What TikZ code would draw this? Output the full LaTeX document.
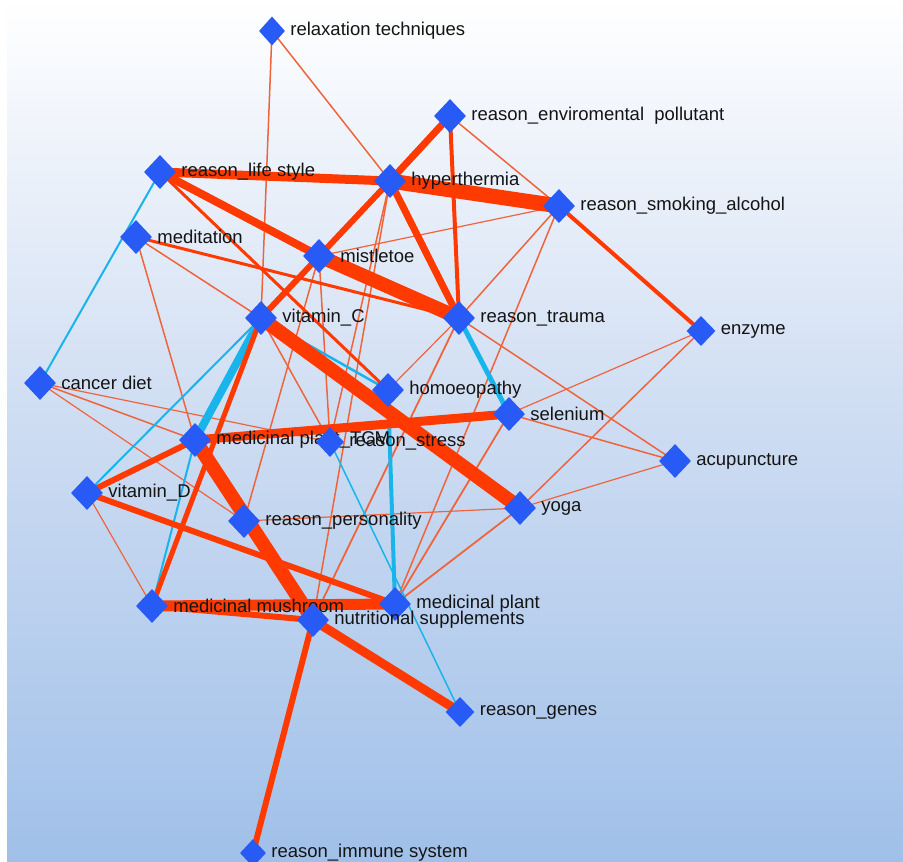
\documentclass[tikz,border=0pt]{standalone}
\usepackage{fontspec}
\setmainfont{Liberation Sans}
\usetikzlibrary{shapes.geometric}
\pgfdeclarelayer{bg}
\pgfdeclarelayer{edges}
\pgfsetlayers{bg,edges,main}
\definecolor{nodeblue}{RGB}{40,90,245}
\definecolor{ered}{RGB}{255,58,0}
\definecolor{elight}{RGB}{240,100,60}
\definecolor{ecyan}{RGB}{25,180,235}
\definecolor{bgbot}{RGB}{160,192,233}
\definecolor{bgmid}{RGB}{205,220,242}
\tikzset{
  nd/.style={diamond, fill=nodeblue, inner sep=0pt, minimum width=32pt, minimum height=34pt},
  lbl/.style={font=\fontsize{18.5}{20}\selectfont, text=black!92, inner sep=0pt},
  er/.style={draw=ered, line width=#1},
  el/.style={draw=elight, line width=#1},
  ec/.style={draw=ecyan, line width=#1},
}
\begin{document}
\begin{tikzpicture}[x=1pt,y=-1pt, label distance=5pt]
\useasboundingbox (0,0) rectangle (903,862);
\begin{pgfonlayer}{bg}
\fill[white] (0,0) rectangle (903,862);
\shade[top color=white, bottom color=bgbot, middle color=bgmid] (7,0) rectangle (903,862);
\end{pgfonlayer}

\node[nd, minimum width=26pt, minimum height=29pt, label={[lbl]right:relaxation techniques}] (relax) at (272,31) {};
\node[nd, label={[lbl]right:reason\_enviromental\ \ pollutant}] (env) at (450,116) {};
\node[nd, label={[lbl]right:reason\_life style}] (life) at (160,172) {};
\node[nd, label={[lbl]right:hyperthermia}] (hyper) at (390,181) {};
\node[nd, label={[lbl]right:reason\_smoking\_alcohol}] (smoke) at (559,206) {};
\node[nd, label={[lbl]right:meditation}] (medit) at (136,237) {};
\node[nd, label={[lbl]right:mistletoe}] (mist) at (319,256) {};
\node[nd, label={[lbl]right:vitamin\_C}] (vitC) at (261,318) {};
\node[nd, label={[lbl]right:reason\_trauma}] (trauma) at (459,318) {};
\node[nd, minimum width=29pt, minimum height=30pt, label={[lbl]right:enzyme}] (enzyme) at (701,331) {};
\node[nd, label={[lbl]right:cancer diet}] (cancer) at (40,383) {};
\node[nd, label={[lbl]right:homoeopathy}] (homoeo) at (388,390) {};
\node[nd, label={[lbl]right:selenium}] (selen) at (509,414) {};
\node[nd, label={[lbl]right:medicinal plant\_TCM}] (tcm) at (195,440) {};
\node[nd, minimum width=28pt, minimum height=30pt, label={[lbl]right:reason\_stress}] (stress) at (330,442) {};
\node[nd, label={[lbl]right:acupuncture}] (acup) at (675,461) {};
\node[nd, label={[lbl]right:vitamin\_D}] (vitD) at (87,493) {};
\node[nd, label={[lbl]right:yoga}] (yoga) at (520,508) {};
\node[nd, label={[lbl]right:reason\_personality}] (person) at (244,521) {};
\node[nd, label={[lbl]right:medicinal mushroom}] (mush) at (152,606) {};
\node[nd, label={[lbl]right:medicinal plant}] (mplant) at (395,604) {};
\node[nd, label={[lbl]right:nutritional supplements}] (nutr) at (313,620) {};
\node[nd, minimum width=29pt, minimum height=30pt, label={[lbl]right:reason\_genes}] (genes) at (460,712) {};
\node[nd, minimum width=26pt, minimum height=28pt, label={[lbl]right:reason\_immune system}] (immune) at (253,853) {};

\begin{pgfonlayer}{edges}
% thin light edges
\draw[el=1.5] (relax.center) -- (vitC.center);
\draw[el=1.5] (relax.center) -- (hyper.center);
\draw[el=1.5] (env.center) -- (smoke.center);
\draw[el=1.5] (medit.center) -- (vitC.center);
\draw[el=1.5] (medit.center) -- (tcm.center);
\draw[el=1.5] (hyper.center) -- (stress.center);
\draw[el=1.2] (mist.center) -- (smoke.center);
\draw[el=1.5] (mist.center) -- (stress.center);
\draw[el=1.5] (vitC.center) -- (stress.center);
\draw[el=1.5] (trauma.center) -- (acup.center);
\draw[el=1.2] (trauma.center) -- (homoeo.center);
\draw[el=1.8] (trauma.center) -- (nutr.center);
\draw[el=1.5] (smoke.center) -- (trauma.center);
\draw[el=1.2] (enzyme.center) -- (selen.center);
\draw[el=1.5] (enzyme.center) -- (yoga.center);
\draw[el=1.5] (selen.center) -- (acup.center);
\draw[el=1.8] (selen.center) -- (mplant.center);
\draw[el=1.2] (acup.center) -- (yoga.center);
\draw[el=1.2] (person.center) -- (yoga.center);
\draw[el=1.2] (cancer.center) -- (stress.center);
\draw[el=1.5] (cancer.center) -- (tcm.center);
\draw[el=1.2] (cancer.center) -- (person.center);
\draw[el=1.8] (yoga.center) -- (mplant.center);
\draw[el=1.2] (vitD.center) -- (mush.center);
\draw[el=1.5] (person.center) -- (mist.center);
\draw[el=1.5] (nutr.center) -- (hyper.center);
\draw[el=1.5] (mplant.center) -- (smoke.center);
% cyan edges
\draw[ec=2] (life.center) -- (cancer.center);
\draw[ec=8] (vitC.center) -- (tcm.center);
\draw[ec=2] (vitC.center) -- (vitD.center);
\draw[ec=2.5] (vitC.center) -- (homoeo.center);
\draw[ec=5] (trauma.center) -- (selen.center);
\draw[ec=4] (homoeo.center) -- (mplant.center);
\draw[ec=2] (tcm.center) -- (mush.center);
\draw[ec=1.5] (stress.center) -- (genes.center);
% strong red edges
\draw[er=3] (life.center) -- (homoeo.center);
\draw[er=3] (medit.center) -- (trauma.center);
\draw[er=4] (env.center) -- (trauma.center);
\draw[er=4] (smoke.center) -- (enzyme.center);
\draw[er=7] (env.center) -- (hyper.center);
\draw[er=9] (life.center) -- (hyper.center);
\draw[er=8] (life.center) -- (mist.center);
\draw[er=14] (mist.center) -- (trauma.center);
\draw[er=15] (hyper.center) -- (smoke.center);
\draw[er=6] (hyper.center) -- (vitC.center);
\draw[er=7] (hyper.center) -- (trauma.center);
\draw[er=14] (vitC.center) -- (yoga.center);
\draw[er=5] (vitC.center) -- (mush.center);
\draw[er=9] (tcm.center) -- (selen.center);
\draw[er=14] (tcm.center) -- (nutr.center);
\draw[er=9] (nutr.center) -- (genes.center);
\draw[er=11] (mush.center) -- (mplant.center);
\draw[er=6] (mush.center) -- (nutr.center);
\draw[er=6] (nutr.center) -- (immune.center);
\draw[er=6] (tcm.center) -- (vitD.center);
\draw[er=6] (vitD.center) -- (mplant.center);
\end{pgfonlayer}
\end{tikzpicture}
\end{document}
